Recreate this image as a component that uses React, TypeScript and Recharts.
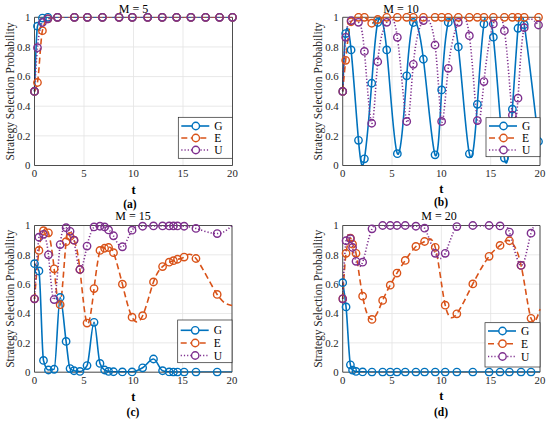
import React from 'react';
import { LineChart, Line, XAxis, YAxis, CartesianGrid, ReferenceLine } from 'recharts';

// (a) M = 5
const timeA = [0, 0.3, 0.8, 1.35, 2.32, 4.03, 5.34, 6.86, 8.54, 9.88, 11.43, 12.9, 14.35, 15.8, 17.28, 18.69, 20];
const gA = [0.5, 0.94, 0.995, 1, 1, 1, 1, 1, 1, 1, 1, 1, 1, 1, 1, 1, 1];
const eA = [0.5, 0.56, 0.91, 0.99, 1, 1, 1, 1, 1, 1, 1, 1, 1, 1, 1, 1, 1];
const uA = [0.5, 0.795, 0.965, 0.99, 1, 1, 1, 1, 1, 1, 1, 1, 1, 1, 1, 1, 1];

// (b) M = 10
const timeB = [0, 0.3, 0.85, 1.6, 2.2, 2.94, 3.55, 4.46, 5.54, 6.49, 7.16, 8.18, 9.36, 10.03, 10.7, 11.72, 12.84, 13.65, 14.32, 15.27, 16.39, 17.2, 17.77, 18.4, 19.85];
const gB = [0.5, 0.89, 0.78, 0.17, 0.045, 0.555, 0.965, 0.78, 0.08, 0.605, 0.965, 0.717, 0.072, 0.51, 0.965, 0.8, 0.079, 0.413, 0.955, 0.866, 0.05, 0.38, 0.926, 0.95, 0.162];
const eB = [0.5, 0.71, 0.97, 1, 1, 0.96, 0.985, 1, 1, 1, 1, 1, 1, 1, 1, 1, 1, 1, 1, 1, 1, 1, 1, 1, 1];
const uB = [0.5, 0.865, 0.978, 0.966, 0.77, 0.285, 0.7, 0.966, 0.865, 0.297, 0.683, 0.978, 0.813, 0.297, 0.656, 0.966, 0.876, 0.303, 0.566, 0.955, 0.91, 0.34, 0.454, 0.93, 0.948];

// (c) M = 15
const timeC = [0, 0.45, 0.91, 1.41, 1.99, 2.6, 3.2, 3.6, 4.0, 4.6, 5.32, 6.03, 6.63, 7.1, 7.5, 8.0, 8.9, 9.88, 10.95, 12.05, 12.97, 13.64, 14.07, 14.48, 15.15, 16.35, 18.5, 20];
const gC = [0.74, 0.69, 0.08, 0.015, 0.02, 0.51, 0.21, 0.025, 0.01, 0.005, 0.045, 0.34, 0.06, 0.015, 0.005, 0.003, 0.002, 0.002, 0.03, 0.09, 0.01, 0.002, 0.001, 0.001, 0.001, 0.001, 0.001, 0.001];
const eC = [0.5, 0.83, 0.965, 0.95, 0.705, 0.46, 0.89, 0.925, 0.9, 0.7, 0.335, 0.57, 0.83, 0.845, 0.85, 0.815, 0.6, 0.375, 0.385, 0.615, 0.72, 0.75, 0.76, 0.77, 0.785, 0.775, 0.53, 0.455];
const uC = [0.5, 0.92, 0.94, 0.8, 0.495, 0.87, 0.985, 0.96, 0.9, 0.7, 0.86, 0.99, 0.995, 0.99, 0.97, 0.93, 0.855, 0.968, 0.995, 0.997, 0.997, 0.997, 0.997, 0.997, 0.995, 0.98, 0.945, 1.0];

// (d) M = 20
const timeD = [0, 0.34, 0.78, 1.0, 1.35, 2.02, 2.97, 4.05, 4.82, 5.5, 6.34, 7.42, 8.3, 9.38, 10.39, 11.57, 13.19, 14.84, 15.95, 16.9, 18.08, 19.09, 20];
const gD = [0.61, 0.445, 0.05, 0.014, 0.005, 0.002, 0.001, 0.001, 0.001, 0.001, 0.001, 0.001, 0.001, 0.001, 0.001, 0.001, 0.001, 0.001, 0.001, 0.001, 0.001, 0.001, 0.001];
const eD = [0.5, 0.81, 0.914, 0.873, 0.81, 0.518, 0.36, 0.489, 0.593, 0.676, 0.762, 0.857, 0.891, 0.851, 0.457, 0.398, 0.602, 0.79, 0.864, 0.896, 0.728, 0.367, 0.43];
const uD = [0.5, 0.896, 0.91, 0.85, 0.756, 0.75, 0.977, 1.0, 1.0, 1.0, 1.0, 0.995, 0.982, 0.81, 0.81, 0.993, 1.0, 1.0, 0.997, 0.955, 0.728, 0.948, 1.0];

const xTicks = [0, 5, 10, 15, 20];
const yTicks = [0, 0.2, 0.4, 0.6, 0.8, 1];
const seriesNames = ['G', 'E', 'U'];

const COLORS = { G: '#0072BD', E: '#D95319', U: '#7E2F8E' };
const DASH = { G: undefined, E: '6 3.5', U: '1.2 2' };
const AX = '#262626';
const FONT = '"Liberation Serif", "Times New Roman", serif';
const W = 275;
const H = 211;

const toRows = (t, g, e, u) => t.map((v, i) => ({ t: v, G: g[i], E: e[i], U: u[i] }));

const panels = [
  {
    key: 'a', left: 0, top: 0, rows: toRows(timeA, gA, eA, uA), markEnd: true,
    plot: { l: 34.5, r: 232.5, t: 17.3, b: 165.5 },
    curves: { G: 'monotoneX', E: 'monotoneX', U: 'monotoneX' },
    title: 'M = 5', titleX: 133.5, titleY: 12.5, tY: 193.5, capY: 207.5, capX: 130, caption: '(a)',
    ylabelX: 10, legend: { x: 178.3, y: 117.3, w: 54.2, h: 41, rows: [126, 138, 150] },
  },
  {
    key: 'b', left: 275, top: 0, rows: toRows(timeB, gB, eB, uB), markEnd: true,
    plot: { l: 67.7, r: 265, t: 17.3, b: 165.5 },
    curves: { G: 'natural', E: 'monotoneX', U: 'natural' },
    title: 'M = 10', titleX: 126, titleY: 12.5, tY: 192.5, capY: 206, capX: 166, caption: '(b)',
    ylabelX: 42.7, legend: { x: 211, y: 117.7, w: 54, h: 39, rows: [126, 138, 150] },
  },
  {
    key: 'c', left: 0, top: 211, rows: toRows(timeC, gC, eC, uC), markEnd: false,
    plot: { l: 34.5, r: 232, t: 14.5, b: 161.2 },
    curves: { G: 'monotoneX', E: 'natural', U: 'natural' },
    title: 'M = 15', titleX: 133, titleY: 8.5, tY: 190, capY: 205, capX: 133, caption: '(c)',
    ylabelX: 10, legend: { x: 177.7, y: 109, w: 54.3, h: 42.7, rows: [119.3, 132, 144.5] },
  },
  {
    key: 'd', left: 275, top: 211, rows: toRows(timeD, gD, eD, uD), markEnd: false,
    plot: { l: 67.7, r: 265, t: 14.5, b: 161.2 },
    curves: { G: 'monotoneX', E: 'natural', U: 'natural' },
    title: 'M = 20', titleX: 164, titleY: 8.5, tY: 188.5, capY: 205, capX: 166, caption: '(d)',
    ylabelX: 42.7, legend: { x: 210, y: 111.7, w: 55, h: 44.3, rows: [120, 132.7, 145.5] },
  },
];

const tickStyle = { fontSize: 10.8, fill: AX, fontFamily: FONT };

function Legend({ lg }) {
  return (
    <g>
      <rect x={lg.x} y={lg.y} width={lg.w} height={lg.h} fill="#fff" stroke={AX} strokeWidth={0.7} />
      {seriesNames.map((s, i) => {
        const y = lg.rows[i];
        return (
          <g key={s}>
            <line x1={lg.x + 3} x2={lg.x + 31} y1={y} y2={y} stroke={COLORS[s]} strokeWidth={1.6} strokeDasharray={DASH[s]} />
            <circle cx={lg.x + 17.5} cy={y} r={3.7} stroke={COLORS[s]} strokeWidth={1.4} fill="#fff" />
            <text x={lg.x + 36} y={y} dominantBaseline="central" fontSize={11.5} fontFamily={FONT} fill="#000">{s}</text>
          </g>
        );
      })}
    </g>
  );
}

function Panel({ p }) {
  const marks = p.markEnd ? p.rows : p.rows.slice(0, -1);
  const midY = (p.plot.t + p.plot.b) / 2;
  const midX = (p.plot.l + p.plot.r) / 2;
  return (
    <div style={{ position: 'absolute', left: p.left, top: p.top, width: W, height: H }}>
      <LineChart
        width={W}
        height={H}
        data={p.rows}
        margin={{ top: p.plot.t, right: W - p.plot.r, bottom: H - p.plot.b - 30, left: 0 }}
      >
        <CartesianGrid stroke="#e3e3e3" strokeWidth={0.8} />
        <XAxis
          type="number"
          dataKey="t"
          domain={[0, 20]}
          ticks={xTicks}
          height={30}
          axisLine={{ stroke: AX, strokeWidth: 0.8 }}
          tickLine={false}
          tickSize={0}
          tickMargin={4}
          tick={tickStyle}
        />
        <YAxis
          type="number"
          domain={[0, 1]}
          ticks={yTicks}
          width={p.plot.l}
          allowDataOverflow
          axisLine={{ stroke: AX, strokeWidth: 0.8 }}
          tickLine={false}
          tickSize={0}
          tickMargin={4}
          tick={tickStyle}
        />
        <ReferenceLine y={1} stroke={AX} strokeWidth={0.8} />
        <ReferenceLine x={20} stroke={AX} strokeWidth={0.8} />
        {seriesNames.map((s) => (
          <Line
            key={s}
            dataKey={s}
            type={p.curves[s]}
            stroke={COLORS[s]}
            strokeWidth={1.6}
            strokeDasharray={DASH[s]}
            dot={false}
            activeDot={false}
            isAnimationActive={false}
          />
        ))}
        {seriesNames.map((s) => (
          <Line
            key={s + '-marks'}
            data={marks}
            dataKey={s}
            stroke="none"
            dot={{ r: 3.7, stroke: COLORS[s], strokeWidth: 1.4, fill: 'none', clipDot: false }}
            activeDot={false}
            isAnimationActive={false}
          />
        ))}
      </LineChart>
      <svg
        width={W}
        height={H}
        style={{ position: 'absolute', left: 0, top: 0, overflow: 'visible', pointerEvents: 'none' }}
      >
        <text x={p.titleX} y={p.titleY} textAnchor="middle" fontSize={12} fontFamily={FONT} fill="#000">{p.title}</text>
        <text
          x={p.ylabelX}
          y={midY}
          transform={`rotate(-90 ${p.ylabelX} ${midY})`}
          textAnchor="middle"
          dominantBaseline="central"
          fontSize={11.5}
          fontFamily={FONT}
          fill={AX}
        >
          Strategy Selection Probability
        </text>
        <text x={midX} y={p.tY} textAnchor="middle" fontSize={12.5} fontWeight="bold" fontFamily={FONT} fill="#000">t</text>
        <text x={p.capX} y={p.capY} textAnchor="middle" fontSize={11.5} fontWeight="bold" fontFamily={FONT} fill="#000">{p.caption}</text>
        <Legend lg={p.legend} />
      </svg>
    </div>
  );
}

export default function App() {
  return (
    <div style={{ position: 'absolute', left: 0, top: 0, width: 550, height: 422, background: '#fff' }}>
      {panels.map((p) => (
        <Panel key={p.key} p={p} />
      ))}
    </div>
  );
}
